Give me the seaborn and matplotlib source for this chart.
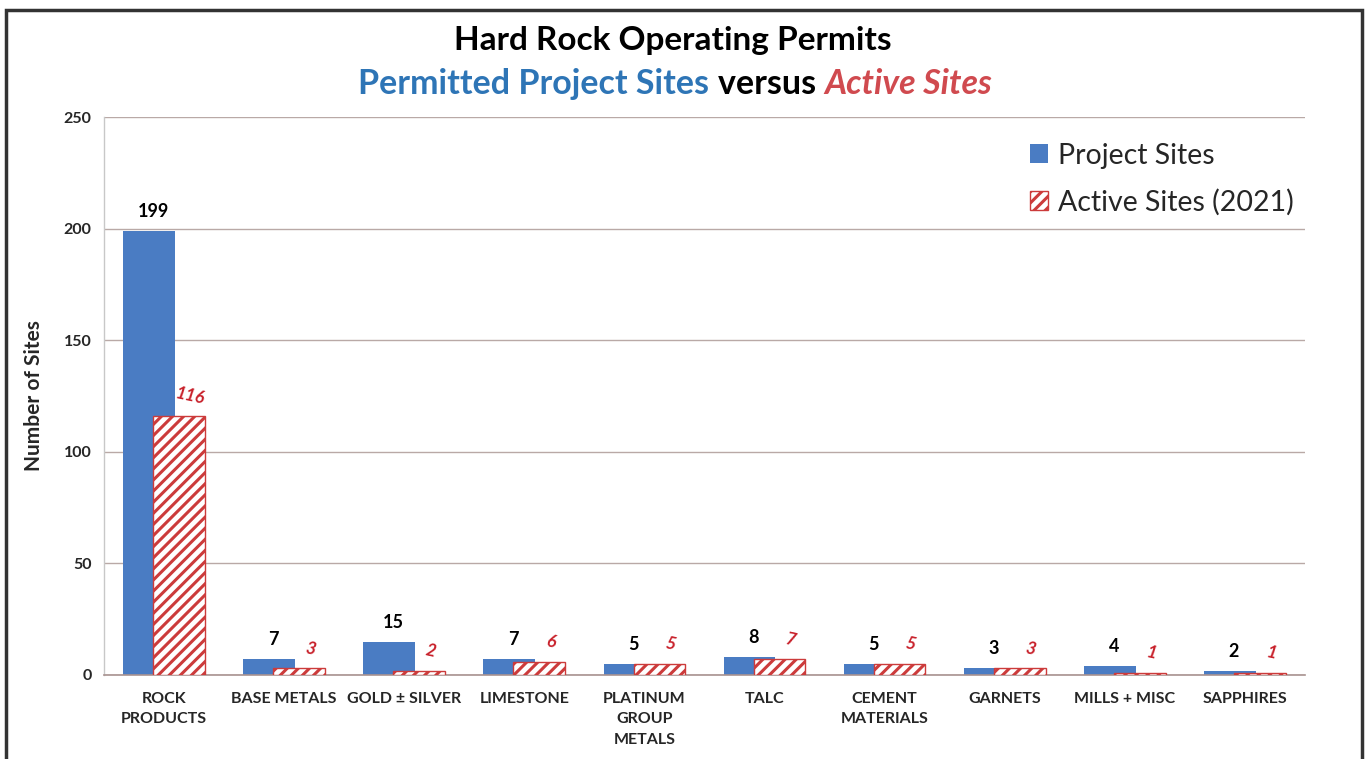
import numpy as np
import pandas as pd
import matplotlib
matplotlib.use("Agg")
import matplotlib.pyplot as plt
from matplotlib.patches import Patch, Rectangle
import seaborn as sns

categories = ["ROCK\nPRODUCTS", "BASE METALS", "GOLD ± SILVER", "LIMESTONE",
              "PLATINUM\nGROUP\nMETALS", "TALC", "CEMENT\nMATERIALS", "GARNETS",
              "MILLS + MISC", "SAPPHIRES"]
project_sites = [199, 7, 15, 7, 5, 8, 5, 3, 4, 2]
active_sites = [116, 3, 2, 6, 5, 7, 5, 3, 1, 1]
series_names = ["Project Sites", "Active Sites (2021)"]
y_ticks = [0, 50, 100, 150, 200, 250]

BLUE = "#4a7cc3"
RED = "#cc3b3b"
TITLE_BLUE = "#2e75b6"
TITLE_RED = "#d04a4f"
LABEL_RED = "#c8202a"

sns.set_theme(style="white")
plt.rcParams["font.family"] = ["Lato", "DejaVu Sans"]
plt.rcParams["hatch.linewidth"] = 2.2

df = pd.DataFrame({
    "category": categories * 2,
    "value": project_sites + active_sites,
    "series": [series_names[0]] * len(categories) + [series_names[1]] * len(categories),
})

fig = plt.figure(figsize=(13.66, 7.59), dpi=100)
ax = fig.add_axes([0.0761, 0.1107, 0.8792, 0.7351])

sns.barplot(data=df, x="category", y="value", hue="series", order=categories,
            hue_order=series_names, palette=[BLUE, "white"], dodge=True,
            width=0.5, ax=ax, legend=False, errorbar=None, saturation=1)

n = len(categories)
bar_w = 0.43
blue_patches = ax.patches[:n]
red_patches = ax.patches[n:2 * n]
for p in blue_patches:
    c = p.get_x() + p.get_width() / 2
    p.set_width(bar_w)
    p.set_x(c - bar_w / 2)
    p.set_edgecolor("none")
    p.set_zorder(2)
for p in red_patches:
    c = p.get_x() + p.get_width() / 2
    p.set_width(bar_w)
    p.set_x(c - bar_w / 2)
    p.set_facecolor("white")
    p.set_edgecolor(RED)
    p.set_hatch("///")
    p.set_linewidth(1.0)
    p.set_zorder(3)

# value labels
for p, v in zip(blue_patches, project_sites):
    ax.annotate(str(v), (p.get_x() + p.get_width() / 2, v), xytext=(3, 14),
                textcoords="offset points", ha="center", va="center",
                fontsize=13, fontweight="bold", color="black", zorder=5)
for p, v in zip(red_patches, active_sites):
    ax.annotate(str(v), (p.get_x() + p.get_width() / 2, v), xytext=(8, 14),
                textcoords="offset points", ha="center", va="center",
                fontsize=12.5, fontweight="bold", fontstyle="italic",
                color=LABEL_RED, rotation=-12, zorder=5)

ax.set_xlim(-0.5, n - 0.5)
ax.set_ylim(0, 250)
ax.set_yticks(y_ticks)
ax.set_yticklabels([str(t) for t in y_ticks], fontsize=11.5, fontweight="bold")
ax.tick_params(axis="y", length=0, pad=9)
ax.tick_params(axis="x", length=0, pad=12)
for lab in ax.get_xticklabels():
    lab.set_fontsize(11.5)
    lab.set_fontweight("bold")
    lab.set_linespacing(1.6)
ax.set_xlabel("")
ax.set_ylabel("Number of Sites", fontsize=15, fontweight="bold")
ax.yaxis.set_label_coords(-0.05, 0.5)

ax.grid(axis="y", color="#b9a9a6", linewidth=1.0, zorder=0)
ax.set_axisbelow(True)
for s in ["top", "right"]:
    ax.spines[s].set_visible(False)
ax.spines["left"].set_color("#c8c8c8")
ax.spines["left"].set_linewidth(1.0)
ax.spines["bottom"].set_color("#a89290")
ax.spines["bottom"].set_linewidth(1.2)

handles = [Patch(facecolor=BLUE, edgecolor="none", label=series_names[0]),
           Patch(facecolor="white", edgecolor=RED, hatch="///", label=series_names[1])]
ax.legend(handles=handles, loc="upper right", bbox_to_anchor=(1.012, 1.0),
          frameon=False, fontsize=20.5, handlelength=0.65, handleheight=0.65,
          handletextpad=0.35, labelspacing=0.7)

# titles
fig.text(0.4925, 0.947, "Hard Rock Operating Permits", ha="center", va="center",
         fontsize=24, fontweight="bold", color="black")

parts = [("Permitted Project Sites ", TITLE_BLUE, "normal"),
         ("versus ", "black", "normal"),
         ("Active Sites", TITLE_RED, "italic")]
fig.canvas.draw()
renderer = fig.canvas.get_renderer()
texts = []
widths = []
for s, col, sty in parts:
    t = fig.text(0, 0.889, s, ha="left", va="center", fontsize=24.5,
                 fontweight="bold", color=col, fontstyle=sty)
    bb = t.get_window_extent(renderer=renderer)
    texts.append(t)
    widths.append(bb.width)
total = sum(widths)
fig_w = fig.bbox.width
x0 = (fig_w - total) / 2 - 8
for t, w in zip(texts, widths):
    t.set_x(x0 / fig_w)
    x0 += w

# outer frame
fig.patches.append(Rectangle((0.0045, -0.02), 0.9925, 1.0068, transform=fig.transFigure,
                             fill=False, edgecolor="#333333", linewidth=2.5))

fig.savefig("out.png", dpi=100, facecolor="white")
